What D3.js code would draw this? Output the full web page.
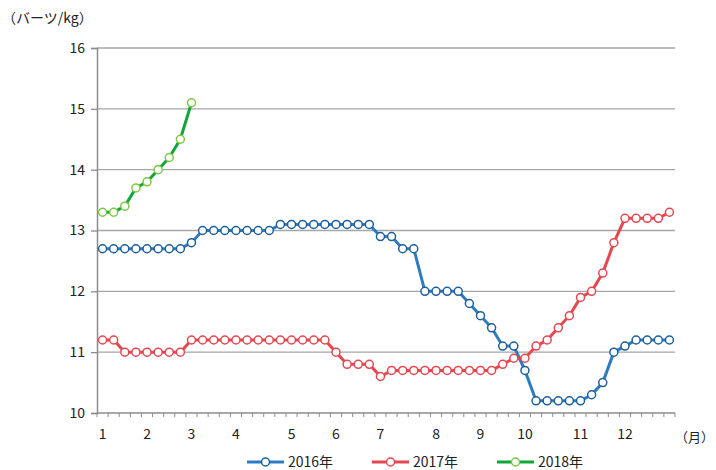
<!DOCTYPE html>
<html><head><meta charset="utf-8">
<script src="https://cdn.jsdelivr.net/npm/d3@7"></script>
<style>
body{margin:0;background:#fff;}
text{font-family:"Noto Sans CJK JP","Noto Sans",sans-serif;fill:#222;}
</style></head>
<body><svg id="c" width="716" height="470"></svg>
<script>
const monthLabels = ["1","2","3","4","5","6","7","8","9","10","11","12"];
const monthIndex = [0,4,8,12,17,21,25,30,34,38,43,47];
const nWeeks = 52;
const yTicks = [10,11,12,13,14,15,16];
const seriesNames = ["2016年","2017年","2018年"];
const v2016 = [12.7,12.7,12.7,12.7,12.7,12.7,12.7,12.7,12.8,13.0,13.0,13.0,13.0,13.0,13.0,13.0,
  13.1,13.1,13.1,13.1,13.1,13.1,13.1,13.1,13.1,12.9,12.9,12.7,12.7,12.0,12.0,12.0,12.0,
  11.8,11.6,11.4,11.1,11.1,10.7,10.2,10.2,10.2,10.2,10.2,10.3,10.5,11.0,11.1,11.2,11.2,11.2,11.2];
const v2017 = [11.2,11.2,11.0,11.0,11.0,11.0,11.0,11.0,11.2,11.2,11.2,11.2,11.2,11.2,11.2,11.2,
  11.2,11.2,11.2,11.2,11.2,11.0,10.8,10.8,10.8,10.6,10.7,10.7,10.7,10.7,10.7,10.7,10.7,10.7,10.7,10.7,
  10.8,10.9,10.9,11.1,11.2,11.4,11.6,11.9,12.0,12.3,12.8,13.2,13.2,13.2,13.2,13.3];
const v2018 = [13.3,13.3,13.4,13.7,13.8,14.0,14.2,14.5,15.1];

const lineColors = ["#2e7bbf","#e5474f","#13a539"];
const markColors = ["#1d5f9c","#e5474f","#7dc843"];

const svg = d3.select("#c");
const L=97, R=675, T=48, B=413;
const x = d3.scaleBand().domain(d3.range(nWeeks)).range([L,R]);
const y = d3.scaleLinear().domain([10,16]).range([B,T]);

// gridlines
svg.append("g").selectAll("line").data(yTicks.filter(d=>d>10)).join("line")
  .attr("x1",L).attr("x2",R).attr("y1",d=>y(d)).attr("y2",d=>y(d))
  .attr("stroke","#a6a6a6").attr("stroke-width",1.3);

// y axis
const ya = svg.append("g").attr("transform",`translate(${L},0)`)
  .call(d3.axisLeft(y).tickValues(yTicks).tickFormat(d3.format("d")).tickSize(6).tickPadding(6));
ya.select(".domain").attr("stroke","#8c8c8c").attr("stroke-width",1.5);
ya.selectAll(".tick line").attr("stroke","#8c8c8c").attr("stroke-width",1.3);
ya.selectAll("text").attr("font-size",14).attr("fill","#222")
  .attr("font-family","'Noto Sans CJK JP',sans-serif");

// x axis ticks at band boundaries
const xa = svg.append("g").attr("transform",`translate(0,${B})`);
xa.append("line").attr("x1",L).attr("x2",R).attr("stroke","#8c8c8c").attr("stroke-width",1.5);
xa.selectAll("line.t").data(d3.range(nWeeks+1)).join("line").attr("class","t")
  .attr("x1",i=>L+i*x.step()).attr("x2",i=>L+i*x.step()).attr("y1",0).attr("y2",4)
  .attr("stroke","#8c8c8c").attr("stroke-width",1);
xa.selectAll("text").data(monthLabels).join("text")
  .attr("x",(d,i)=>x(monthIndex[i])+x.bandwidth()/2).attr("y",26)
  .attr("text-anchor","middle").attr("font-size",14).text(d=>d);

svg.append("text").attr("x",714).attr("y",442).attr("text-anchor","end").attr("font-size",13).text("（月）");
svg.append("text").attr("x",2).attr("y",23).attr("font-size",14).text("（バーツ/kg）");

const cx = i => x(i)+x.bandwidth()/2;
const line = d3.line().x((d,i)=>cx(i)).y(d=>y(d));
[v2016,v2017,v2018].forEach((vals,k)=>{
  const g = svg.append("g");
  g.append("path").datum(vals).attr("d",line).attr("fill","none")
    .attr("stroke",lineColors[k]).attr("stroke-width",3);
  g.selectAll("circle").data(vals).join("circle")
    .attr("cx",(d,i)=>cx(i)).attr("cy",d=>y(d)).attr("r",4)
    .attr("fill","#fff").attr("stroke",markColors[k]).attr("stroke-width",1.5);
});

// legend
const lg = svg.append("g").attr("transform","translate(247,462)");
const lx = [0,125,250];
seriesNames.forEach((n,k)=>{
  const g = lg.append("g").attr("transform",`translate(${lx[k]},0)`);
  g.append("line").attr("x1",0).attr("x2",37).attr("stroke",lineColors[k]).attr("stroke-width",3);
  g.append("circle").attr("cx",18.5).attr("cy",0).attr("r",4).attr("fill","#fff")
    .attr("stroke",markColors[k]).attr("stroke-width",1.5);
  g.append("text").attr("x",41).attr("y",5).attr("font-size",14).text(n);
});
</script></body></html>
